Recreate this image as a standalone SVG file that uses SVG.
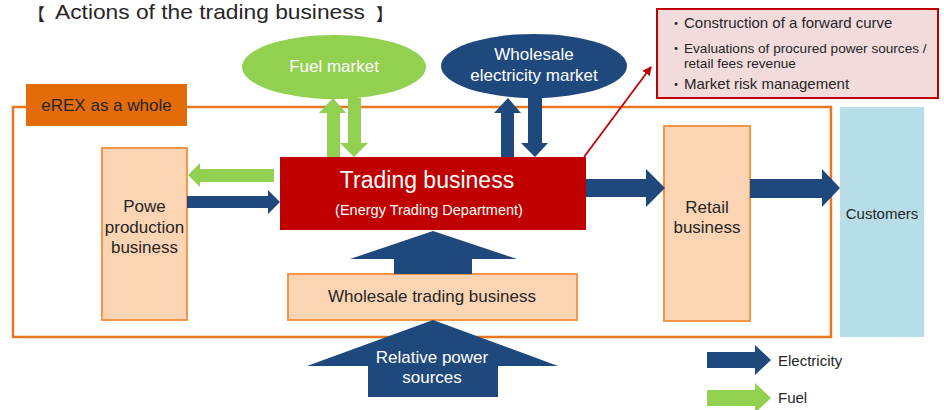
<svg xmlns="http://www.w3.org/2000/svg" width="944" height="410" viewBox="0 0 944 410">
  <style>
    text { font-family: "Liberation Sans", Arial, "Noto Sans CJK JP", sans-serif; }
    .cjk { font-family: "Noto Sans CJK JP", "Liberation Sans", sans-serif; }
    .dark { fill: #262626; }
    .white { fill: #ffffff; }
    .unit { fill: #FBD4B4; stroke: #F79646; stroke-width: 2; }
    .elec { fill: #1F497D; }
    .fuel { fill: #92D050; }
  </style>
  <defs>
    <marker id="redHead" viewBox="0 0 10 10" refX="9" refY="5" markerWidth="5" markerHeight="5" orient="auto">
      <path d="M0,0 L10,5 L0,10 Z" fill="#C00000"/>
    </marker>
  </defs>

  <rect width="944" height="410" fill="#ffffff"/>

  <!-- Title -->
  <g id="title">
    <text x="28" y="20.5" font-size="17" class="dark cjk">【</text>
    <text x="55" y="19" font-size="21" class="dark" textLength="310" lengthAdjust="spacingAndGlyphs">Actions of the trading business</text>
    <text x="376" y="20.5" font-size="17" class="dark cjk">】</text>
  </g>

  <!-- Company boundary -->
  <g id="erex">
    <rect x="13" y="107" width="818" height="230" fill="none" stroke="#E87722" stroke-width="2.5"/>
    <rect x="26" y="84" width="161" height="42" fill="#E36C09"/>
    <text x="106.5" y="111" font-size="17" text-anchor="middle" class="dark">eREX as a whole</text>
  </g>

  <!-- Markets -->
  <g id="fuel-market">
    <ellipse cx="334" cy="67" rx="92" ry="32" fill="#92D050"/>
    <text x="334" y="72" font-size="17" text-anchor="middle" class="white">Fuel market</text>
  </g>
  <g id="wholesale-market">
    <ellipse cx="534" cy="66" rx="93" ry="32" fill="#1F497D"/>
    <text x="534" y="60" font-size="17" text-anchor="middle" class="white">Wholesale</text>
    <text x="534" y="81" font-size="17" text-anchor="middle" class="white">electricity market</text>
  </g>

  <!-- Trading roles -->
  <g id="roles">
    <rect x="657" y="9" width="281" height="89" fill="#F2DCDB" stroke="#C00000" stroke-width="2"/>
    <text x="683" y="28" font-size="14" text-anchor="end" class="dark cjk">・</text>
    <text x="684" y="28" font-size="15" class="dark">Construction of a forward curve</text>
    <text x="683" y="53" font-size="14" text-anchor="end" class="dark cjk">・</text>
    <text x="684" y="53" font-size="13.6" class="dark">Evaluations of procured power sources /</text>
    <text x="684" y="68" font-size="13.6" class="dark">retail fees revenue</text>
    <text x="683" y="89" font-size="14" text-anchor="end" class="dark cjk">・</text>
    <text x="684" y="89" font-size="15" class="dark">Market risk management</text>
  </g>

  <!-- Business units -->
  <g id="power-production">
    <rect x="102" y="148" width="85" height="172" class="unit"/>
    <text x="144.5" y="212" font-size="17" text-anchor="middle" class="dark">Powe</text>
    <text x="144.5" y="233" font-size="17" text-anchor="middle" class="dark">production</text>
    <text x="144.5" y="253" font-size="17" text-anchor="middle" class="dark">business</text>
  </g>
  <g id="trading">
    <rect x="280" y="157" width="306" height="73" fill="#C00000"/>
    <text x="427" y="188" font-size="23" text-anchor="middle" class="white">Trading business</text>
    <text x="429" y="215" font-size="14.5" text-anchor="middle" class="white">(Energy Trading Department)</text>
  </g>
  <g id="wholesale-trading">
    <rect x="288" y="274" width="289" height="46" class="unit"/>
    <text x="432" y="302" font-size="17" text-anchor="middle" class="dark">Wholesale trading business</text>
  </g>
  <g id="retail">
    <rect x="664" y="126" width="86" height="195" class="unit"/>
    <text x="707" y="213" font-size="17" text-anchor="middle" class="dark">Retail</text>
    <text x="707" y="233" font-size="17" text-anchor="middle" class="dark">business</text>
  </g>
  <g id="customers">
    <rect x="840" y="107" width="84" height="230" fill="#B7DEE8"/>
    <text x="882" y="219" font-size="15" text-anchor="middle" class="dark">Customers</text>
  </g>

  <!-- Flows -->
  <g id="connectors">
    <!-- fuel: trading -> power production -->
    <polygon class="fuel" points="274,169 200,169 200,163 188,175 200,187 200,182 274,182"/>
    <!-- electricity: power production -> trading -->
    <polygon class="elec" points="187,196 268,196 268,190 280,202 268,214 268,208 187,208"/>
    <!-- fuel market exchange -->
    <polygon class="fuel" points="327,157 327,113 319,113 333,98 346,113 340,113 340,157"/>
    <polygon class="fuel" points="348,98 361,98 361,143 368,143 354,157 340,143 348,143"/>
    <!-- wholesale electricity market exchange -->
    <polygon class="elec" points="501,157 501,113 494,113 508,98 521,113 514,113 514,157"/>
    <polygon class="elec" points="528,98 542,98 542,143 548,143 535,157 521,143 528,143"/>
    <!-- trading -> retail -->
    <polygon class="elec" points="586,179 646,179 646,169 665,188 646,207 646,197 586,197"/>
    <!-- retail -> customers -->
    <polygon class="elec" points="750,179 822,179 822,169 840,188 822,207 822,198 750,198"/>
    <!-- wholesale trading -> trading -->
    <polygon class="elec" points="394,274 394,259 350,259 433,231 517,259 472,259 472,274"/>
    <!-- trading -> roles callout -->
    <line x1="584" y1="157" x2="651" y2="67" stroke="#C00000" stroke-width="1.8" marker-end="url(#redHead)"/>
  </g>

  <!-- External supply -->
  <g id="relative-power">
    <polygon class="elec" points="368,397 368,366 307,366 433,320 558,366 498,366 498,397"/>
    <text x="432" y="363" font-size="17" text-anchor="middle" class="white">Relative power</text>
    <text x="432" y="383" font-size="17" text-anchor="middle" class="white">sources</text>
  </g>

  <!-- Legend -->
  <g id="legend">
    <polygon class="elec" points="707,352 755,352 755,345 771,360 755,375 755,368 707,368"/>
    <text x="778" y="366" font-size="15" class="dark">Electricity</text>
    <polygon class="fuel" points="707,390 755,390 755,383 771,398 755,413 755,406 707,406"/>
    <text x="778" y="403" font-size="15" class="dark">Fuel</text>
  </g>
</svg>
